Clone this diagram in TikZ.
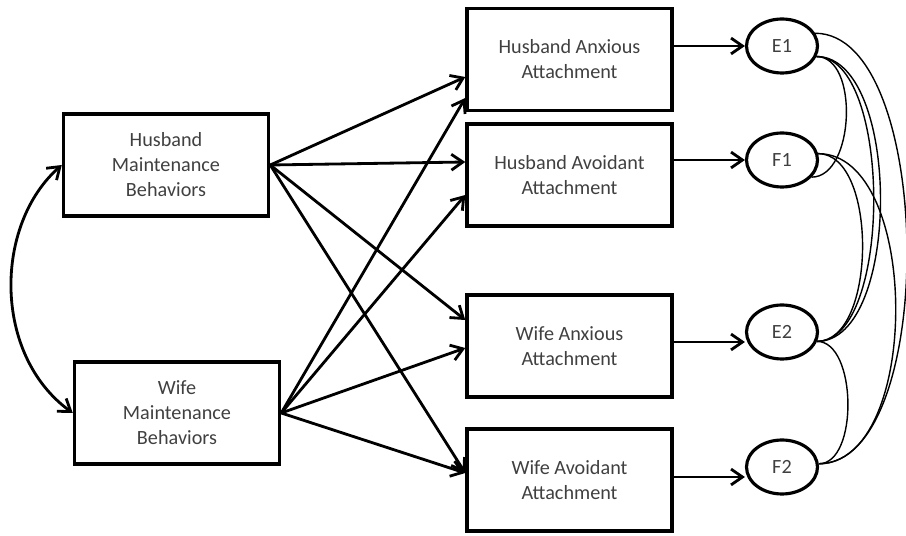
\documentclass[tikz,border=0pt]{standalone}
\usepackage{fontspec}
\setmainfont{Carlito}
\usetikzlibrary{arrows.meta,shapes.geometric}

\tikzset{
  box/.style={draw, line width=2pt, minimum width=4.1cm, minimum height=2.04cm,
    align=center, text=black!75, font=\fontsize{11.5}{14.2}\selectfont},
  err/.style={draw, ellipse, line width=1.8pt, minimum width=1.42cm, minimum height=1.08cm,
    inner sep=0pt, text=black!75, font=\fontsize{11.5}{14.2}\selectfont},
  effect/.style={line width=1.6pt, ->},
  cov/.style={line width=0.8pt},
}

\begin{document}
\begin{tikzpicture}[x=0.02cm, y=-0.02cm, >={Straight Barb[length=6.5pt,width=9pt]}]
\useasboundingbox (0,0) rectangle (906,536);

% Maintenance behaviors
\node[box] (HM) at (166,165) {Husband\\Maintenance\\Behaviors};
\node[box] (WM) at (177,413) {Wife\\Maintenance\\Behaviors};

% Attachment
\node[box] (HAnx) at (569.5,59.5) {Husband Anxious\\Attachment};
\node[box] (HAvo) at (569.5,175) {Husband Avoidant\\Attachment};
\node[box] (WAnx) at (569.5,346) {Wife Anxious\\Attachment};
\node[box] (WAvo) at (569.5,480) {Wife Avoidant\\Attachment};

% Residuals
\node[err] (E1) at (782,46) {E1};
\node[err] (F1) at (782,160) {F1};
\node[err] (E2) at (782,332) {E2};
\node[err] (F2) at (782,467) {F2};
\coordinate (e2in) at ([yshift=-0.2cm]E2.west);
\coordinate (f2in) at ([yshift=-0.2cm]F2.west);

% Correlation of the predictors
\draw[effect, <->] (HM.west) .. controls +(-68,60) and +(-80,-58) .. (WM.west);

% Paths
\draw[effect] (HM.east) -- ([yshift=-0.35cm]HAnx.west);
\draw[effect] (HM.east) -- ([yshift=0.26cm]HAvo.west);
\draw[effect] (HM.east) -- ([yshift=0.52cm]WAnx.west);
\draw[effect] (HM.east) -- ([yshift=0.14cm]WAvo.west);
\draw[effect] (WM.east) -- ([yshift=-0.77cm]HAnx.west);
\draw[effect] (WM.east) -- ([yshift=-0.4cm]HAvo.west);
\draw[effect] (WM.east) -- ([yshift=-0.04cm]WAnx.west);
\draw[effect] (WM.east) -- ([yshift=0.14cm]WAvo.west);

\draw[effect] (HAnx.east |- E1.west) -- (E1.west);
\draw[effect] (HAvo.east |- F1.west) -- (F1.west);
\draw[effect] (WAnx.east |- e2in) -- (e2in);
\draw[effect] (WAvo.east |- f2in) -- (f2in);

% Residual covariances
\draw[cov] (E1.-17) .. controls +(43,0) and +(43,0) .. (F1.-30);
\draw[cov] (E1.-17) .. controls +(76,0) and +(76,0) .. (E2.-15);
\draw[cov] (E1.-17) .. controls +(85,0) and +(85,0) .. (E2.-15);
\draw[cov] (F1.10) .. controls +(60,0) and +(60,0) .. (E2.-15);
\draw[cov] (E1.21) .. controls +(120,0) and +(120,0) .. (F2.5);
\draw[cov] (F1.10) .. controls +(103,0) and +(103,0) .. (F2.5);
\draw[cov] (E2.-15) .. controls +(40,0) and +(40,0) .. (F2.5);
\end{tikzpicture}
\end{document}
